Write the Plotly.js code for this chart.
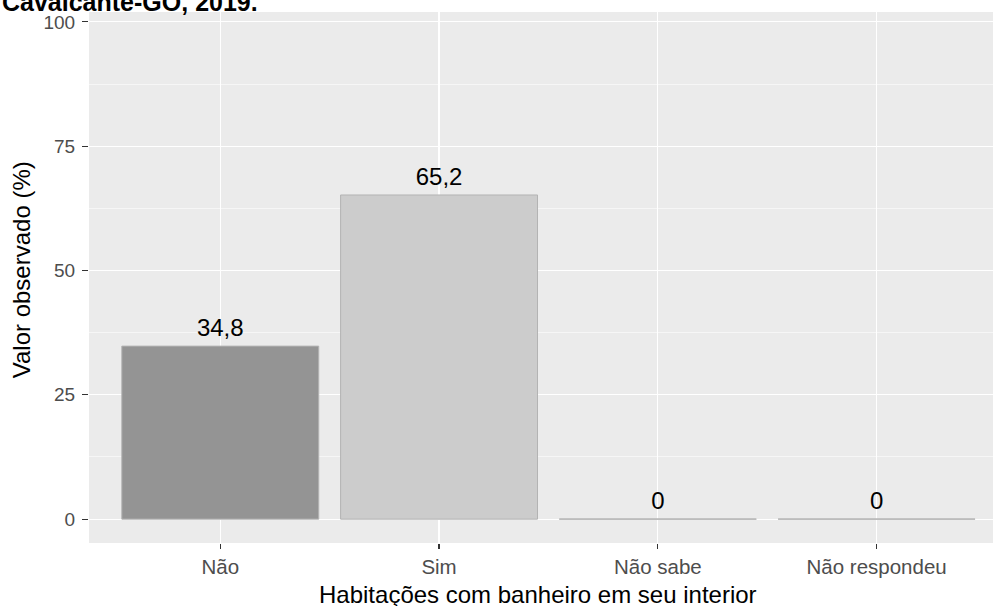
<!DOCTYPE html>
<html>
<head>
<meta charset="utf-8">
<script src="https://cdn.plot.ly/plotly-3.0.1.min.js"></script>
<style>html,body{margin:0;padding:0;background:#fff;}</style>
</head>
<body>
<div id="chart" style="width:993px;height:606px;"></div>
<script>
const categories = ["Não", "Sim", "Não sabe", "Não respondeu"];
const values = [34.8, 65.2, 0, 0];
const barColors = ["#949494", "#cccccc", "#cccccc", "#cccccc"];
const yTickVals = [0, 25, 50, 75, 100];
const titleText = "Cavalcante-GO, 2019.";
const xTitle = "Habitações com banheiro em seu interior";
const yTitle = "Valor observado (%)";

const idx = categories.map((c, i) => i);
const labels = values.map(v => String(v).replace('.', ','));
const barWidth = 0.9;

// outline segments for zero-height bars (Plotly hides blank bars)
const zx = [], zy = [];
values.forEach((v, i) => {
  if (v === 0) { zx.push(i - barWidth/2, i + barWidth/2, null); zy.push(v, v, null); }
});

const traces = [
  {type: 'bar', x: idx, y: values, width: barWidth,
   marker: {color: barColors, line: {color: '#b3b3b3', width: 1}},
   hoverinfo: 'none', showlegend: false},
  {type: 'scatter', mode: 'lines', x: zx, y: zy,
   line: {color: '#bdbdbd', width: 1.2}, hoverinfo: 'none', showlegend: false},
  {type: 'scatter', mode: 'markers+text', x: idx, y: values, text: labels,
   marker: {size: 4.5, opacity: 0},
   textposition: 'top center', cliponaxis: false,
   textfont: {family: 'Liberation Sans, Arial, sans-serif', size: 24, color: '#000'},
   hoverinfo: 'none', showlegend: false}
];

const layout = {
  width: 993, height: 606,
  margin: {l: 89, r: 0, t: 12, b: 63, pad: 0},
  paper_bgcolor: '#ffffff', plot_bgcolor: '#ebebeb',
  font: {family: 'Liberation Sans, Arial, sans-serif'},
  showlegend: false,
  xaxis: {
    range: [-0.6, 3.532], tickvals: idx, ticktext: categories,
    showgrid: true, gridcolor: '#ffffff', gridwidth: 1.1, zeroline: false,
    ticks: 'outside', ticklen: 5, tickwidth: 1.1, tickcolor: '#333333',
    tickfont: {size: 20.5, color: '#4d4d4d'}, showline: false, fixedrange: true
  },
  yaxis: {
    range: [-4.8, 102], tickvals: yTickVals,
    showgrid: true, gridcolor: '#ffffff', gridwidth: 1.1, zeroline: false,
    minor: {dtick: 12.5, tick0: 0, showgrid: true, gridcolor: '#ffffff', gridwidth: 0.55, ticks: ''},
    ticks: 'outside', ticklen: 6, tickwidth: 1.1, tickcolor: '#333333', ticklabelstandoff: 3,
    tickfont: {size: 19, color: '#4d4d4d'}, showline: false, fixedrange: true
  },
  annotations: [
    {text: xTitle, xref: 'paper', yref: 'paper', x: 0.4967, y: 0, yshift: -36,
     xanchor: 'center', yanchor: 'top', showarrow: false,
     font: {size: 24, color: '#000'}},
    {text: yTitle, xref: 'paper', yref: 'paper', x: -0.075, y: 0.514, textangle: -90,
     xanchor: 'center', yanchor: 'middle', showarrow: false,
     font: {size: 24, color: '#000'}},
    {text: '<b>' + titleText + '</b>', xref: 'paper', yref: 'paper', x: -0.0985, y: 1, yshift: -6.5,
     xanchor: 'left', yanchor: 'bottom', showarrow: false,
     font: {size: 25, color: '#000'}}
  ]
};

Plotly.newPlot('chart', traces, layout, {staticPlot: true});
</script>
</body>
</html>
